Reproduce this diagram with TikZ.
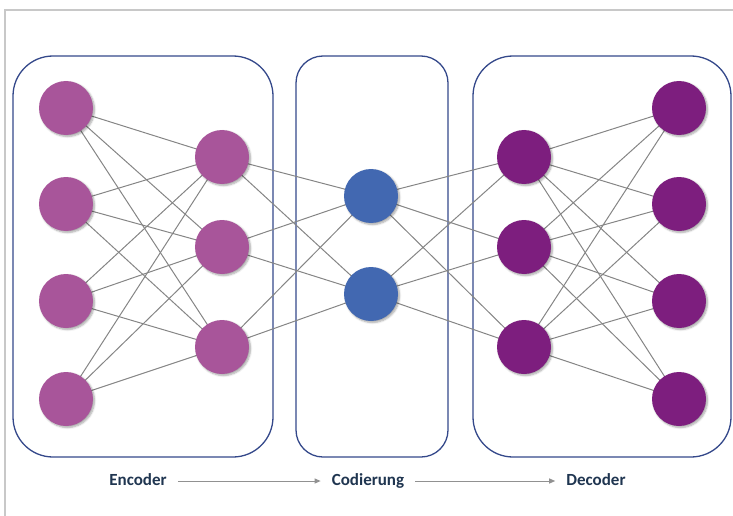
\documentclass[tikz,border=0pt]{standalone}
\usepackage{fontspec}
\setmainfont{Carlito}
\usetikzlibrary{shadows.blur,arrows.meta}
\definecolor{encc}{HTML}{A8559A}
\definecolor{codc}{HTML}{4268B1}
\definecolor{decc}{HTML}{7D1E7E}
\definecolor{boxc}{HTML}{34488A}
\definecolor{linkc}{HTML}{858585}
\definecolor{labc}{HTML}{1F3550}
\definecolor{framec}{HTML}{C8C8C8}
\tikzset{
  neuron/.style={circle, minimum size=54pt, inner sep=0pt, draw=none,
    blur shadow={shadow xshift=1.5pt, shadow yshift=-1.5pt, shadow blur steps=6, shadow opacity=35}},
  encn/.style={neuron, fill=encc},
  codn/.style={neuron, fill=codc},
  decn/.style={neuron, fill=decc},
  link/.style={draw=linkc, line width=1pt},
  stagebox/.style={draw=boxc, line width=1.3pt},
  lab/.style={font=\fontsize{17}{20}\selectfont\bfseries, text=labc, inner sep=0pt, text height=12pt, text depth=4pt},
  flow/.style={draw=linkc!90, line width=1pt, -{Triangle[length=6pt,width=5pt]}, shorten <=11pt, shorten >=11pt}
}
\begin{document}
\begin{tikzpicture}[x=1pt,y=-1pt]
\useasboundingbox (0,0) rectangle (733,516);
% frame
\draw[framec, line width=1.5pt] (5,516) -- (5,10) -- (733,10);
% boxes
\draw[stagebox, rounded corners=40pt] (13,56) rectangle (273,457);
\draw[stagebox, rounded corners=27pt] (296,56) rectangle (448,457);
\draw[stagebox, rounded corners=40pt] (473,56) rectangle (731,457);
% coordinates for neurons
\foreach \i/\y in {1/108,2/204,3/301,4/399}{
  \coordinate (i\i) at (66,\y);
  \coordinate (o\i) at (679,\y);
}
\foreach \i/\y in {1/157,2/247,3/347}{
  \coordinate (h\i) at (222,\y);
  \coordinate (d\i) at (524,\y);
}
\coordinate (c1) at (371,196);
\coordinate (c2) at (371,294);
% links
\foreach \a in {1,...,4}{\foreach \b in {1,2,3}{\draw[link] (i\a) -- (h\b);}}
\foreach \a in {1,2,3}{\foreach \b in {1,2}{\draw[link] (h\a) -- (c\b);}}
\foreach \a in {1,2}{\foreach \b in {1,2,3}{\draw[link] (c\a) -- (d\b);}}
\foreach \a in {1,2,3}{\foreach \b in {1,...,4}{\draw[link] (d\a) -- (o\b);}}
% neurons
\foreach \i in {1,...,4}{
  \node[encn] (ni\i) at (i\i) {};
  \node[decn] (no\i) at (o\i) {};
}
\foreach \i in {1,2,3}{
  \node[encn] (nh\i) at (h\i) {};
  \node[decn] (nd\i) at (d\i) {};
}
\node[codn] (nc1) at (c1) {};
\node[codn] (nc2) at (c2) {};
% labels
\node[lab] (enc) at (138,481) {Encoder};
\node[lab] (cod) at (368,481) {Codierung};
\node[lab] (dec) at (596,481) {Decoder};
\draw[flow] (enc.east) -- (cod.west);
\draw[flow] (cod.east) -- (dec.west);
\end{tikzpicture}
\end{document}
